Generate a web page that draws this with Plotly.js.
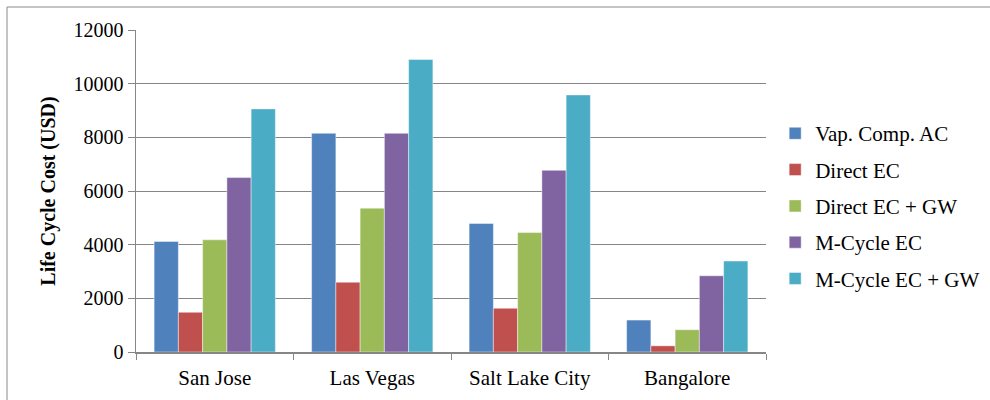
<!DOCTYPE html>
<html>
<head>
<meta charset="utf-8">
<script src="https://cdn.plot.ly/plotly-3.0.1.min.js"></script>
<style>html,body{margin:0;padding:0;background:#fff;}#chart{width:990px;height:400px;}</style>
</head>
<body>
<div id="chart"></div>
<script>
const categories = ["San Jose", "Las Vegas", "Salt Lake City", "Bangalore"];
const seriesNames = ["Vap. Comp. AC", "Direct EC", "Direct EC + GW", "M-Cycle EC", "M-Cycle EC + GW"];
const vapCompAC = [4120, 8150, 4790, 1190];
const directEC = [1480, 2600, 1630, 230];
const directECGW = [4180, 5360, 4450, 830];
const mCycleEC = [6500, 8150, 6770, 2840];
const mCycleECGW = [9060, 10900, 9580, 3390];
const yTicks = [0, 2000, 4000, 6000, 8000, 10000, 12000];
const colors = ["#4F81BD", "#C0504D", "#9BBB59", "#8064A2", "#4BACC6"];

const allValues = [vapCompAC, directEC, directECGW, mCycleEC, mCycleECGW];
const font = "Liberation Serif, Times New Roman, serif";

const traces = allValues.map((vals, i) => ({
  type: "bar",
  name: seriesNames[i],
  x: categories,
  y: vals,
  legendgroup: "g" + i,
  marker: { color: colors[i], line: { color: "rgba(255,255,255,0.55)", width: 0.8 } },
  hoverinfo: "x+y+name"
}));

const layout = {
  width: 990,
  height: 400,
  margin: { l: 136, r: 224, t: 30, b: 48, autoexpand: false },
  paper_bgcolor: "#fff",
  plot_bgcolor: "#fff",
  barmode: "group",
  bargap: 0.23,
  bargroupgap: 0,
  font: { family: font, size: 20, color: "#000" },
  showlegend: true,
  legend: {
    xref: "container", x: 0.783, xanchor: "left",
    y: 0.453, yanchor: "middle",
    font: { family: font, size: 21, color: "#000" },
    tracegroupgap: 6,
    itemwidth: 30,
    bgcolor: "rgba(0,0,0,0)"
  },
  xaxis: {
    type: "category",
    showline: true, linecolor: "#868686", linewidth: 1.5,
    ticks: "outside", tickson: "boundaries", ticklen: 6, tickcolor: "#868686",
    ticklabelstandoff: 6,
    tickfont: { family: font, size: 21, color: "#000" },
    showgrid: false, zeroline: false
  },
  yaxis: {
    range: [0, 12000],
    tickvals: yTicks,
    ticktext: yTicks.map(String),
    showline: true, linecolor: "#868686", linewidth: 1.5,
    ticks: "outside", ticklen: 7, tickcolor: "#868686",
    showgrid: true, gridcolor: "#858585", gridwidth: 1,
    zeroline: false,
    tickfont: { family: font, size: 20, color: "#000" },
    title: { text: "<b>Life Cycle Cost (USD)</b>", font: { family: font, size: 20, color: "#000" }, standoff: 12 }
  },
  shapes: [{
    type: "rect", xref: "paper", yref: "paper",
    x0: -129 / 630, x1: 1.5, y0: -0.2, y1: (352 - 7) / 322,
    line: { color: "#8a8a8a", width: 1 }, fillcolor: "rgba(0,0,0,0)", layer: "below"
  }]
};

Plotly.newPlot("chart", traces, layout, { displayModeBar: false, staticPlot: true });
</script>
</body>
</html>
